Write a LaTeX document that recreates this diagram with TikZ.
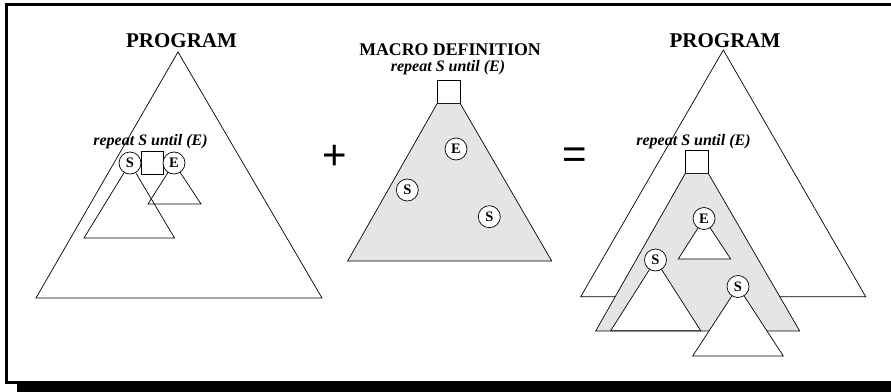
\documentclass[tikz,border=0pt]{standalone}
\usepackage{fontspec}
\setmainfont{Liberation Serif}
\newfontfamily\signfont{Liberation Sans}
\usepackage{tikz}
\definecolor{macrogray}{gray}{0.9}
\tikzstyle{tri} = [draw=black, line width=0.7pt, line join=miter]
\tikzstyle{macro} = [draw=black, line width=0.7pt, fill=macrogray]
\tikzstyle{whitetri} = [draw=black, line width=0.7pt, fill=white]
\tikzstyle{hole} = [draw=black, line width=0.7pt, circle, fill=white, minimum size=22pt, inner sep=0pt, font=\fontsize{14.5}{14.5}\selectfont\bfseries]
\tikzstyle{slot} = [draw=black, line width=0.7pt, rectangle, fill=white, minimum size=22.5pt, inner sep=0pt]
\tikzstyle{title} = [anchor=base, inner sep=0pt, font=\fontsize{21}{21}\selectfont\bfseries]
\tikzstyle{repeatlabel} = [anchor=base, inner sep=0pt, font=\fontsize{16}{16}\selectfont\bfseries\itshape]
\tikzstyle{sign} = [inner sep=0pt, font=\fontsize{42}{42}\selectfont\signfont]

\begin{document}
\begin{tikzpicture}[x=1pt, y=-1pt]
        % Bounding box
        \useasboundingbox (0,0) rectangle (891,391);

        % Frame with shadow
        \fill[black] (17,384) rectangle (895,395);
        \draw[line width=3pt] (895,4.5) -- (6.5,4.5) -- (6.5,382.5) -- (895,382.5);

        % Left: program with macro call
        \node[title] (prog1) at (181.5,47) {PROGRAM};
        \draw[tri] (178,52) -- (36,298) -- (322,298) -- cycle;
        \node[repeatlabel] (call1) at (150.5,145) {repeat S until (E)};
        \coordinate (s1) at (130,163);
        \coordinate (e1) at (174,163);
        \draw[tri] (s1) -- (84,238) -- (174.5,238) -- cycle;
        \draw[tri] (e1) -- (148,204) -- (201,204) -- cycle;
        \node[slot] (sq1) at (152.5,163) {};
        \node[hole] (s1n) at (s1) {S};
        \node[hole] (e1n) at (e1) {E};

        % Plus
        \node[sign] (plus) at (335,157.5) {+};

        % Middle: macro definition
        \node[title, font=\fontsize{17.8}{17.8}\selectfont\bfseries] (macdef) at (450,55) {MACRO DEFINITION};
        \node[repeatlabel] (call2) at (448,71.5) {repeat S until (E)};
        \node[slot] (sq2) at (448.7,92) {};
        \draw[macro] (sq2.south west) -- (sq2.south east) -- (551.7,261) -- (347.7,261) -- cycle;
        \node[hole] (e2n) at (456,149) {E};
        \node[hole] (s2n) at (407.3,190) {S};
        \node[hole] (s3n) at (489.3,216.7) {S};

        % Equals
        \node[sign] (equals) at (575,158) {=};

        % Right: program after expansion
        \node[title] (prog2) at (725,47) {PROGRAM};
        \draw[tri] (723.3,50) -- (580.7,296.7) -- (865.7,296.7) -- cycle;
        \node[repeatlabel] (call3) at (693.5,145) {repeat S until (E)};
        \node[slot] (sq3) at (696.8,162) {};
        \draw[macro] (sq3.south west) -- (sq3.south east) -- (799.7,331) -- (595.7,331) -- cycle;
        \coordinate (e3) at (704,218.5);
        \coordinate (s4) at (655.5,260);
        \coordinate (s5) at (738,286.5);
        \draw[whitetri] (e3) -- (678.3,259) -- (730.7,259) -- cycle;
        \draw[whitetri] (s4) -- (610.7,330.7) -- (700.7,330.7) -- cycle;
        \draw[whitetri] (s5) -- (692.7,356) -- (783.3,356) -- cycle;
        \node[hole] (e3n) at (e3) {E};
        \node[hole] (s4n) at (s4) {S};
        \node[hole] (s5n) at (s5) {S};

    \end{tikzpicture}
\end{document}
